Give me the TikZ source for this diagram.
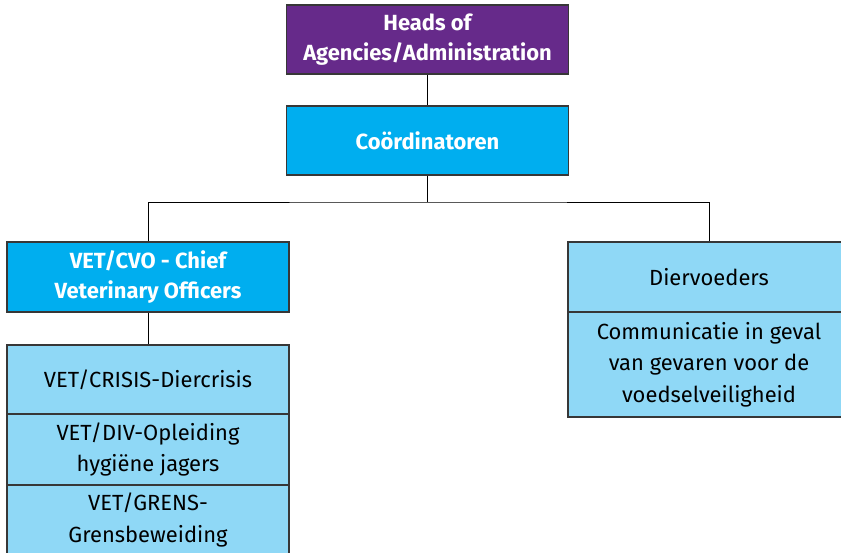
\documentclass[tikz,border=0pt]{standalone}
\usepackage{fontspec}
\setmainfont{Fira Sans}
\usepackage{tikz}

\definecolor{headpurple}{RGB}{102,42,138}
\definecolor{coordcyan}{RGB}{0,174,239}
\definecolor{unitblue}{RGB}{143,216,246}
\definecolor{edgegray}{RGB}{55,55,55}

\tikzset{
  box/.style={draw=edgegray,line width=1pt,rectangle,align=center,
    minimum width=7.05cm,inner sep=2pt,font=\fontsize{15.6}{22.5}\selectfont},
  topbox/.style={box,fill=headpurple,text=white,font=\bfseries\fontsize{15.6}{21.5}\selectfont},
  midbox/.style={box,fill=coordcyan,text=white,font=\bfseries\fontsize{15.6}{21.5}\selectfont},
  unitbox/.style={box,fill=unitblue,text=black}
}

\begin{document}
\begin{tikzpicture}[x=0.025cm,y=-0.025cm]
\useasboundingbox (0,0) rectangle (841,552);
\clip (0,0) rectangle (841,552);

\node[topbox,minimum height=1.725cm] (heads) at (427.5,39.5) {Heads of\\Agencies/Administration};
\node[midbox,minimum height=1.725cm] (coord) at (427.5,140.5) {Coördinatoren};

\node[midbox,minimum height=1.75cm] (cvo) at (148,277) {VET/CVO - Chief\\Veterinary Officers};
\node[unitbox,minimum height=1.725cm] (crisis) at (148,379.5) {VET/CRISIS-Diercrisis};
\node[unitbox,minimum height=1.775cm] (div) at (148,449.5) {VET/DIV-Opleiding\\hygiëne jagers};
\node[unitbox,minimum height=1.75cm] (grens) at (148,520) {VET/GRENS-\\Grensbeweiding};

\node[unitbox,minimum height=1.75cm] (dier) at (709,277) {Diervoeders};
\node[unitbox,minimum height=2.625cm] (comm) at (709,364.5) {Communicatie in geval\\van gevaren voor de\\voedselveiligheid};

\coordinate (bar) at (427.5,202);

\draw[black] (heads.south) -- (coord.north);
\draw[black] (coord.south) -- (bar);
\draw[black] (cvo.north) |- (bar) -| (dier.north);
\draw[black] (cvo.south) -- (crisis.north);
\end{tikzpicture}
\end{document}
